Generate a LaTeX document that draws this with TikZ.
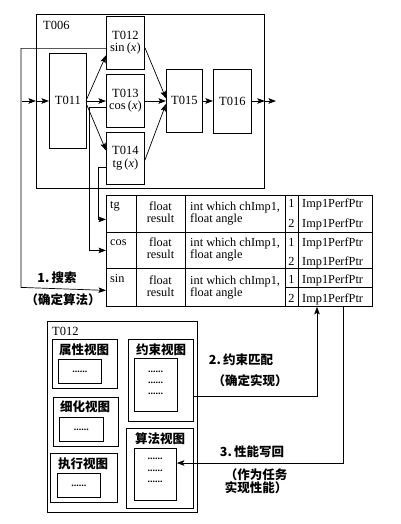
\documentclass[tikz,border=0pt]{standalone}
\usepackage{fontspec}
\setmainfont{Liberation Serif}
\newfontfamily\cjk{Noto Sans CJK SC}
\usetikzlibrary{arrows.meta,calc}
\begin{document}
\begin{tikzpicture}[x=1pt,y=-1pt,
  box/.style={draw, line width=0.8pt, inner sep=0pt, anchor=north west},
  arr/.style={line width=0.7pt, -{Stealth[length=7.5pt,width=5.5pt,inset=1.5pt]}},
  ln/.style={line width=0.7pt},
  lbl/.style={font=\fontsize{12.5}{12.5}\selectfont, align=center},
  cj/.style={font=\cjk\bfseries\fontsize{12.5}{14}\selectfont, inner sep=0pt, align=center},
  dotsty/.style={font=\bfseries\fontsize{10}{11}\selectfont, inner sep=0pt},
  cell/.style={font=\fontsize{12.3}{12}\selectfont, inner sep=0pt, anchor=base west},
  cellc/.style={font=\fontsize{12.3}{12}\selectfont, inner sep=0pt, anchor=base}
]
\useasboundingbox (0,0) rectangle (400,524);

% ---------- top: T006 ----------
\node[box, minimum width=228pt, minimum height=174pt] (t006) at (36,14) {};
\node[font=\fontsize{12.5}{12}\selectfont, inner sep=0pt, anchor=base west] (t006lbl) at (43,30) {T006};

\node[box, lbl, minimum width=37pt, minimum height=95pt] (t011) at (49,53) {T011};
\node[box, lbl, minimum width=38pt, minimum height=53pt] (t012) at (106,16) {T012\\sin\,(\textit{x})};
\node[box, lbl, minimum width=38pt, minimum height=53pt] (t013) at (106,74) {T013\\cos\,(\textit{x})};
\node[box, lbl, minimum width=38pt, minimum height=52pt] (t014) at (106,132) {T014\\tg\,(\textit{x})};
\node[box, lbl, minimum width=36pt, minimum height=63pt] (t015) at (166,69) {T015};
\node[box, lbl, minimum width=38pt, minimum height=64pt] (t016) at (213,69) {T016};

\coordinate (in) at (22,101);
\coordinate (out) at (276,101);
\draw[arr] (in) -- (in -| t006.west);
\draw[arr] (in -| t006.west) -- (in -| t011.west);
\draw[arr] ($(t011.east)+(0,-2)$) -- ($(t012.west)+(0,12.5)$);
\draw[arr] (in -| t011.east) -- (in -| t013.west);
\draw[arr] ($(t011.east)+(0,4)$) -- ($(t014.west)+(0,-8)$);
\draw[arr] ($(t012.east)+(0,4.5)$) -- ($(t015.west)+(0,-2.5)$);
\draw[arr] (in -| t013.east) -- (in -| t015.west);
\draw[arr] ($(t014.east)+(0,2)$) -- ($(t015.west)+(0,3)$);
\draw[arr] (in -| t015.east) -- (in -| t016.west);
\draw[arr] (in -| t016.east) -- (in -| t006.east);
\draw[arr] (in -| t006.east) -- (out);

% ---------- table ----------
\node[box, minimum width=266pt, minimum height=37pt] (tgrow) at (106,195) {};
\node[box, minimum width=266pt, minimum height=36pt] (cosrow) at (106,232) {};
\node[box, minimum width=266pt, minimum height=38pt] (sinrow) at (106,268) {};
\foreach \cx in {136,185,285,298} \draw[line width=0.8pt] (\cx,195) -- (\cx,306);
\draw[line width=0.8pt] (285,287) -- (372,287);

\node[cell] (tgn) at (110,208) {tg};
\node[cell] (cosn) at (110,245) {cos};
\node[cell] (sinn) at (110,282) {sin};

\node[cellc] (f1) at (160.5,210) {float};
\node[cellc] (r1) at (160.5,222.5) {result};
\node[cellc] (f2) at (160.5,246) {float};
\node[cellc] (r2) at (160.5,258.5) {result};
\node[cellc] (f3) at (160.5,284) {float};
\node[cellc] (r3) at (160.5,296.5) {result};

\node[cell] (i1) at (190,210) {int which chImp1,};
\node[cell] (a1) at (190,222.5) {float angle};
\node[cell] (i2) at (190,246) {int which chImp1,};
\node[cell] (a2) at (190,258.5) {float angle};
\node[cell] (i3) at (190,284) {int which chImp1,};
\node[cell] (a3) at (190,296.5) {float angle};

\foreach \nm/\yy/\dg in {d11/207/1,d12/227/2,d21/246/1,d22/265/2,d31/283/1,d32/302/2}{
  \node[cellc] (\nm) at (291.5,\yy) {\dg};
  \node[cell] (p\nm) at (302,\yy) {Imp1PerfPtr};
}

% ---------- connectors to table ----------
\coordinate (xs) at (21,0);
\coordinate (xc) at (89,0);
\coordinate (xt) at (98,0);
\draw[arr] ($(t012.west)+(0,5.5)$) -| (xs |- sinrow.west) -- ($(sinrow.west)+(0,3)$);
\draw[arr] ($(t013.west)+(0,6.5)$) -- ($(xc |- t013.west)+(0,6.5)$) -- (xc |- cosrow.west) -- (cosrow.west);
\draw[arr] ($(t014.west)+(0,9)$) -- ($(xt |- t014.west)+(0,9)$) -- ($(xt |- tgrow.west)+(0,5.5)$) -- ($(tgrow.west)+(0,5.5)$);

\node[cj, anchor=center] (l1a) at (57,278) {1.\,搜索};
\node[cj, anchor=center] (l1b) at (63,300) {（确定算法）};

% ---------- bottom: T012 ----------
\node[box, minimum width=150pt, minimum height=191pt] (b012) at (47,321) {};
\node[font=\fontsize{12.5}{12}\selectfont, inner sep=0pt, anchor=base west] (b012lbl) at (52,335) {T012};

\node[box, minimum width=65pt, minimum height=49pt] (sx) at (52,339) {};
\node[cj] (sxt) at (84,350) {属性视图};
\node[box, minimum width=43pt, minimum height=24pt, dotsty] (sxi) at (58,359) {......};

\node[box, minimum width=65pt, minimum height=49pt] (xh) at (53,397) {};
\node[cj] (xht) at (85,407) {细化视图};
\node[box, minimum width=44pt, minimum height=24pt, dotsty] (xhi) at (59,417) {......};

\node[box, minimum width=67pt, minimum height=49pt] (zx) at (50,453) {};
\node[cj] (zxt) at (83,464) {执行视图};
\node[box, minimum width=43pt, minimum height=24pt, dotsty] (zxi) at (57,473) {......};

\node[box, minimum width=65pt, minimum height=82pt] (ys) at (128,339) {};
\node[cj] (yst) at (161,350) {约束视图};
\node[box, minimum width=43pt, minimum height=53pt] (ysi) at (134,358) {};
\node[dotsty] (ysd1) at (155.5,372) {......};
\node[dotsty] (ysd2) at (155.5,383) {......};
\node[dotsty] (ysd3) at (155.5,394) {......};

\node[box, minimum width=67pt, minimum height=80pt] (sf) at (126,428) {};
\node[cj] (sft) at (160,439) {算法视图};
\node[box, minimum width=42pt, minimum height=52pt] (sfi) at (134,448) {};
\node[dotsty] (sfd1) at (155,459) {......};
\node[dotsty] (sfd2) at (155,471) {......};
\node[dotsty] (sfd3) at (155,482) {......};

% ---------- connectors 2 and 3 ----------
\coordinate (c2) at (317,396);
\coordinate (c3) at (343,463);
\draw[arr] (ys.east |- c2) -- (c2) -- (c2 |- sinrow.south);
\draw[arr] (c3 |- sinrow.south) -- (c3) -- (c3 -| sfi.east);

\node[cj] (l2a) at (241,360) {2.\,约束匹配};
\node[cj] (l2b) at (250,381) {（确定实现）};
\node[cj] (l3a) at (252,452) {3.\,性能写回};
\node[cj, font=\cjk\bfseries\fontsize{12.5}{13}\selectfont] (l3b) at (256,481) {（作为任务\\实现性能）};
\end{tikzpicture}
\end{document}
